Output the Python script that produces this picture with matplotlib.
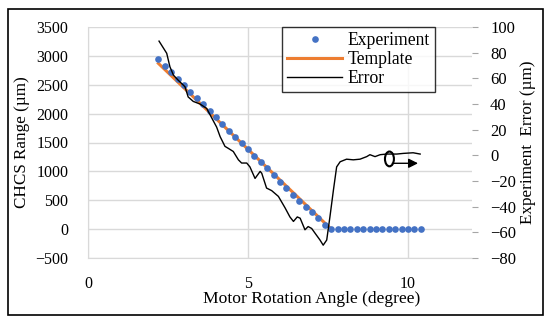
import matplotlib
matplotlib.use('agg')
import matplotlib.pyplot as plt
from matplotlib.patches import Ellipse, Rectangle

plt.rcParams['font.family'] = ['Liberation Serif', 'DejaVu Serif']
plt.rcParams['font.size'] = 11.5

# experiment points (degree, um)
exp_x = [2.2, 2.4, 2.6, 2.8, 3.0, 3.2, 3.4, 3.6, 3.8, 4.0, 4.2, 4.4, 4.6, 4.8,
         5.0, 5.2, 5.4, 5.6, 5.8, 6.0, 6.2, 6.4, 6.6, 6.8, 7.0, 7.2, 7.4, 7.6,
         7.8, 8.0, 8.2, 8.4, 8.6, 8.8, 9.0, 9.2, 9.4, 9.6, 9.8, 10.0, 10.2, 10.4]
exp_y = [2950, 2830, 2720, 2600, 2500, 2380, 2270, 2170, 2050, 1935, 1820, 1700,
         1595, 1490, 1380, 1270, 1160, 1050, 930, 815, 705, 595, 495, 390, 290,
         185, 75, 0, 0, 0, 0, 0, 0, 0, 0, 0, 0, 0, 0, 0, 0, 0]

# template
tpl_x = [2.2, 7.6]
tpl_y = [2870, 0]

# error curve (um)
err_x = [2.22, 2.46, 2.56, 2.67, 2.82, 3.03, 3.13, 3.29, 3.5, 3.71, 3.87, 4.02,
         4.13, 4.28, 4.38, 4.54, 4.70, 4.80, 4.96, 5.06, 5.22, 5.38, 5.43, 5.58,
         5.74, 5.95, 6.16, 6.31, 6.42, 6.54, 6.63, 6.78, 6.88, 6.99, 7.09, 7.25,
         7.35, 7.46, 7.56, 7.67, 7.77, 7.88, 8.08, 8.29, 8.5, 8.71, 8.81, 8.97,
         9.13, 9.33, 9.65, 9.85, 10.16, 10.38]
err_y = [89, 79.5, 69, 62.5, 58.5, 53.5, 45.5, 42, 40, 36.5, 29, 22, 14.5, 7,
         5.5, 3, -3.5, -6, -6, -9, -18, -12.5, -14, -25.5, -27.5, -32, -41,
         -48, -51.5, -48, -49, -58, -55.5, -57, -60.5, -66, -70, -66, -48,
         -27, -9, -5, -3, -3.5, -3, -1, 0.5, -1, 0.5, 1, 1, 1.5, 2, 1]

fig = plt.figure(figsize=(5.5, 3.26), dpi=100)
ax = fig.add_axes([88/550, 1-258/326, 384/550, 231/326])
ax2 = ax.twinx()

grid_c = '#d9d9d9'
ax.set_xlim(0, 12)
ax.set_ylim(-500, 3500)
ax.set_xticks([0, 5, 10])
ax.set_yticks(range(-500, 3501, 500))
ax.set_yticklabels([str(v).replace('-', '\u2212') for v in range(-500, 3501, 500)])
ax.grid(True, color=grid_c, lw=1)
ax.set_axisbelow(True)
for s in ['top', 'right']:
    ax.spines[s].set_visible(False)
ax.spines['left'].set_color(grid_c)
ax.spines['bottom'].set_color(grid_c)
ax.tick_params(axis='both', length=0)
ax.tick_params(axis='y', pad=14)
ax.tick_params(axis='x', pad=13)

l1, = ax.plot(exp_x, exp_y, 'o', color='#4472C4', ms=4.8, mec='none',
              label='Experiment', zorder=3)
l2, = ax.plot(tpl_x, tpl_y, '-', color='#ED7D31', lw=2.2, label='Template',
              zorder=2)

ax2.set_ylim(-80, 100)
ax2.set_yticks(range(-80, 101, 20))
ax2.set_yticklabels([str(v).replace('-', '\u2212') for v in range(-80, 101, 20)],
                    fontsize=12)
for s in ['top', 'right', 'left', 'bottom']:
    ax2.spines[s].set_visible(False)
ax2.tick_params(axis='y', length=4, color='#a6a6a6', pad=9, direction='out')
l3, = ax2.plot(err_x, err_y, '-', color='black', lw=1.0, label='Error')

# annotation pointing to the right axis
ax2.add_patch(Ellipse((9.42, -2.8), 0.28, 11.5, fill=False, ec='black', lw=1.5))
ax2.annotate('', xy=(10.4, -6.2), xytext=(9.42, -6.2),
             arrowprops=dict(arrowstyle='-|>', color='black', lw=1,
                             mutation_scale=14))

ax.set_xlabel('Motor Rotation Angle (degree)', fontsize=12.6)
ax.xaxis.set_label_coords((312-88)/384, -0.145)
ax.set_ylabel('CHCS Range (\u00b5m)', fontsize=12.3, labelpad=4)
ax2.set_ylabel('Experiment  Error (\u00b5m)', fontsize=12.3, labelpad=3)

leg = ax2.legend(handles=[l1, l2, l3], loc='upper left',
                 bbox_to_anchor=(194/384, 1.0), frameon=True, fancybox=False,
                 edgecolor='black', borderpad=0.3, labelspacing=0.1,
                 handlelength=3.1, handletextpad=0.3, borderaxespad=0,
                 fontsize=12.7)
leg.get_frame().set_linewidth(1.0)

fig.patches.append(Rectangle((8/550, 1-315/326), 535/550, 306/326,
                             transform=fig.transFigure, fill=False,
                             ec='black', lw=1.2))

fig.savefig('out.png', dpi=100)
